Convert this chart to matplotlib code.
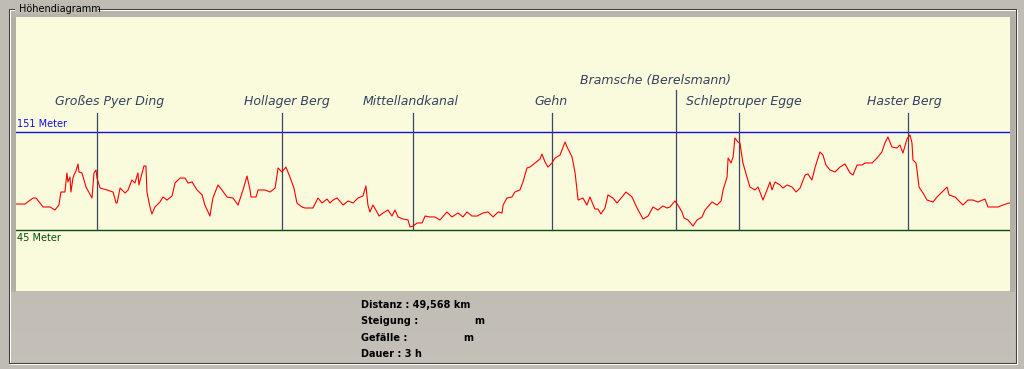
import numpy as np
import matplotlib.pyplot as plt
from matplotlib.patches import Rectangle
from matplotlib.colors import LinearSegmentedColormap

# elevation profile: distance along route (km) and height (m)
dist_km = [0.00, 0.45, 0.85, 1.00, 1.35, 1.70, 1.94, 2.14, 2.24, 2.44,
           2.54, 2.59, 2.69, 2.74, 2.84, 2.89, 2.99, 3.09, 3.14, 3.29,
           3.49, 3.79, 3.89, 3.99, 4.04, 4.19, 4.54, 4.84, 4.99, 5.04,
           5.19, 5.44, 5.59, 5.78, 5.93, 6.08, 6.13, 6.38, 6.48, 6.53,
           6.68, 6.78, 6.93, 7.18, 7.33, 7.53, 7.78, 7.93, 8.18, 8.43,
           8.58, 8.78, 9.03, 9.28, 9.42, 9.67, 9.82, 10.07, 10.27, 10.52,
           10.82, 11.07, 11.32, 11.52, 11.67, 11.72, 11.97, 12.07, 12.42, 12.67,
           12.92, 13.07, 13.26, 13.46, 13.66, 13.86, 14.01, 14.26, 14.41, 14.81,
           15.06, 15.26, 15.51, 15.66, 15.81, 16.01, 16.31, 16.56, 16.81, 17.05,
           17.30, 17.45, 17.55, 17.65, 17.80, 18.00, 18.10, 18.30, 18.55, 18.75,
           18.90, 19.05, 19.30, 19.55, 19.65, 19.80, 20.00, 20.25, 20.40, 20.64,
           20.89, 21.14, 21.49, 21.74, 22.04, 22.29, 22.49, 22.74, 22.99, 23.29,
           23.54, 23.79, 24.04, 24.24, 24.29, 24.48, 24.73, 24.88, 25.13, 25.28,
           25.48, 25.63, 25.88, 26.13, 26.23, 26.38, 26.53, 26.73, 26.88, 27.13,
           27.38, 27.48, 27.73, 27.88, 28.03, 28.27, 28.47, 28.62, 28.87, 29.02,
           29.17, 29.37, 29.52, 29.77, 29.97, 30.22, 30.42, 30.72, 30.97, 31.27,
           31.52, 31.77, 32.01, 32.26, 32.46, 32.61, 32.86, 33.01, 33.21, 33.31,
           33.51, 33.76, 33.96, 34.21, 34.36, 34.71, 34.96, 35.16, 35.26, 35.46,
           35.51, 35.66, 35.76, 35.85, 36.00, 36.10, 36.25, 36.45, 36.60, 36.85,
           37.00, 37.10, 37.25, 37.45, 37.60, 37.70, 37.85, 38.10, 38.25, 38.45,
           38.70, 38.90, 39.10, 39.35, 39.49, 39.69, 39.84, 40.09, 40.24, 40.39,
           40.59, 40.84, 41.09, 41.34, 41.59, 41.74, 41.94, 42.19, 42.34, 42.69,
           42.94, 43.18, 43.33, 43.48, 43.68, 43.93, 44.08, 44.23, 44.43, 44.58,
           44.68, 44.73, 44.88, 44.93, 45.03, 45.23, 45.43, 45.73, 45.93, 46.18,
           46.43, 46.53, 46.83, 47.22, 47.47, 47.72, 47.97, 48.32, 48.47, 48.97,
           49.22, 49.52, 49.568]
elev_m = [73.1, 73.1, 79.6, 79.6, 69.9, 69.9, 66.6, 72.0, 86.1, 86.1,
          106.7, 96.9, 102.3, 86.1, 101.2, 104.5, 108.8, 116.4, 107.7, 106.7,
          91.5, 79.6, 106.7, 109.9, 101.2, 90.4, 88.3, 86.1, 74.2, 74.2,
          90.4, 85.0, 88.3, 99.1, 95.8, 106.7, 93.7, 114.2, 114.2, 86.1,
          69.9, 62.3, 69.9, 75.3, 80.7, 77.4, 81.8, 95.8, 101.2, 101.2,
          95.8, 96.9, 88.3, 82.9, 72.0, 60.1, 79.6, 93.7, 88.3, 80.7,
          79.6, 72.0, 88.3, 103.4, 88.3, 80.7, 80.7, 88.3, 88.3, 86.1,
          90.4, 112.1, 107.7, 113.1, 102.3, 90.4, 74.2, 69.9, 68.8, 68.8,
          79.6, 74.2, 78.5, 74.2, 77.4, 79.6, 72.0, 76.4, 74.2, 79.6,
          81.8, 92.6, 72.0, 64.5, 72.0, 64.5, 60.1, 63.4, 66.6, 60.1,
          66.6, 59.1, 56.9, 55.8, 48.2, 49.3, 52.6, 52.6, 60.1, 59.1,
          59.1, 55.8, 64.5, 59.1, 63.4, 59.1, 64.5, 60.1, 60.1, 63.4,
          64.5, 59.1, 64.5, 63.4, 72.0, 79.6, 80.7, 86.1, 88.3, 96.9,
          112.1, 113.1, 117.5, 121.8, 127.2, 118.6, 113.1, 117.5, 122.9, 126.1,
          140.2, 134.8, 124.0, 106.7, 77.4, 79.6, 72.0, 80.7, 67.7, 67.7,
          62.3, 68.8, 82.9, 79.6, 74.2, 80.7, 86.1, 80.7, 68.8, 56.9,
          60.1, 69.9, 66.6, 71.0, 68.8, 69.9, 76.4, 72.0, 64.5, 58.0,
          55.8, 49.3, 55.8, 59.1, 66.6, 75.3, 72.0, 76.4, 88.3, 102.3,
          122.9, 117.5, 124.0, 144.5, 140.2, 139.1, 117.5, 102.3, 91.5, 88.3,
          91.5, 86.1, 77.4, 88.3, 96.9, 88.3, 96.9, 93.7, 90.4, 93.7,
          91.5, 86.1, 90.4, 104.5, 105.6, 99.1, 112.1, 129.4, 126.1, 115.3,
          109.9, 107.7, 113.1, 116.4, 106.7, 104.5, 115.3, 115.3, 117.5, 117.5,
          122.9, 129.4, 139.1, 145.6, 134.8, 133.7, 136.9, 128.3, 143.4, 147.8,
          139.1, 120.7, 117.5, 109.9, 91.5, 85.0, 77.4, 75.3, 80.7, 86.1,
          91.5, 82.9, 80.7, 72.0, 77.4, 77.4, 75.3, 78.5, 69.9, 69.9,
          72.0, 74.2, 74.2]

place_names = ["Großes Pyer Ding", "Hollager Berg", "Mittellandkanal", "Gehn",
               "Bramsche (Berelsmann)", "Schleptruper Egge", "Haster Berg"]
place_km = [4.04, 13.26, 19.80, 26.73, 32.91, 36.05, 44.48]
label_km = [4.69, 13.51, 19.70, 26.68, 31.87, 36.30, 44.28]
label_row = [0, 0, 0, 0, 1, 0, 0]

max_elev = 151
min_elev = 45
total_km = 49.568

stats_text = ["Distanz : 49,568 km", "Steigung :", "Gefälle :", "Dauer : 3 h"]
stats_unit = ["", "m", "m", ""]
unit_px = [0, 474, 463, 0]

W, H = 1024, 369
fig = plt.figure(figsize=(W / 100, H / 100), dpi=100)
fig.patch.set_facecolor("#c0bcb4")

# window chrome drawn in pixel coordinates
bg = fig.add_axes([0, 0, 1, 1])
bg.set_xlim(0, W)
bg.set_ylim(H, 0)
bg.axis("off")
grad = np.linspace(0, 1, 100)[:, None]
bg.imshow(grad, cmap=LinearSegmentedColormap.from_list("g", ["#b7b3aa", "#c4c0b8"]),
          extent=(10, 1015, 361, 10), aspect="auto", zorder=0)
bg.add_patch(Rectangle((10, 17), 6, 275, color="#b3afa6", lw=0, zorder=1))
bg.add_patch(Rectangle((1010, 17), 5, 275, color="#b3afa6", lw=0, zorder=1))
bg.add_patch(Rectangle((9.5, 9.5), 1007, 354, fill=False, ec="white", lw=0.75, zorder=2))
bg.add_patch(Rectangle((8.5, 8.5), 1007, 354, fill=False, ec="#404040", lw=0.75, zorder=2))
bg.add_patch(Rectangle((15, 2), 83, 12, color="#bebab2", lw=0, zorder=3))
bg.text(19, 9.5, "Höhendiagramm", fontsize=7, family="DejaVu Sans",
        color="black", va="center", ha="left", zorder=4)

for i, t in enumerate(stats_text):
    yy = 305 + i * 16.3
    bg.text(361, yy, t, fontsize=7, family="DejaVu Sans", weight="bold",
            va="center", ha="left", zorder=4)
    if stats_unit[i]:
        bg.text(unit_px[i], yy, stats_unit[i], fontsize=7, family="DejaVu Sans",
                weight="bold", va="center", ha="left", zorder=4)

# plot area
ax = fig.add_axes([16 / W, (H - 291) / H, 994 / W, 274 / H])
ax.set_facecolor("#fafadc")
px_per_m = 98 / (max_elev - min_elev)
ax.set_xlim(0, total_km)
ax.set_ylim(max_elev - 159 / px_per_m, max_elev + 115 / px_per_m)
for s in ax.spines.values():
    s.set_visible(False)
ax.set_xticks([])
ax.set_yticks([])

ax.axhline(max_elev, color="#1010e0", lw=1.0, zorder=2)
ax.axhline(min_elev, color="#0a4a0a", lw=1.0, zorder=2)
ax.annotate(f"{max_elev} Meter", (0, max_elev), xytext=(1, 2), textcoords="offset points",
            fontsize=7, color="#1010e0", va="bottom", ha="left")
ax.annotate(f"{min_elev} Meter", (0, min_elev), xytext=(1, -2), textcoords="offset points",
            fontsize=7, color="#0a4a0a", va="top", ha="left")

row_top = [max_elev + 19 / px_per_m, max_elev + 42 / px_per_m]
row_base = [max_elev + 27 / px_per_m, max_elev + 48 / px_per_m]
for name, km, lk, r in zip(place_names, place_km, label_km, label_row):
    ax.plot([km, km], [min_elev, row_top[r]], color="#3a4866", lw=0.9, zorder=3)
    ax.text(lk, row_base[r], name, fontsize=9, style="italic", family="DejaVu Sans",
            color="#34425e", ha="center", va="baseline")

ax.plot(dist_km, elev_m, color="#ff0000", lw=0.8, zorder=4)

fig.savefig("out.png", dpi=100, facecolor=fig.get_facecolor())
